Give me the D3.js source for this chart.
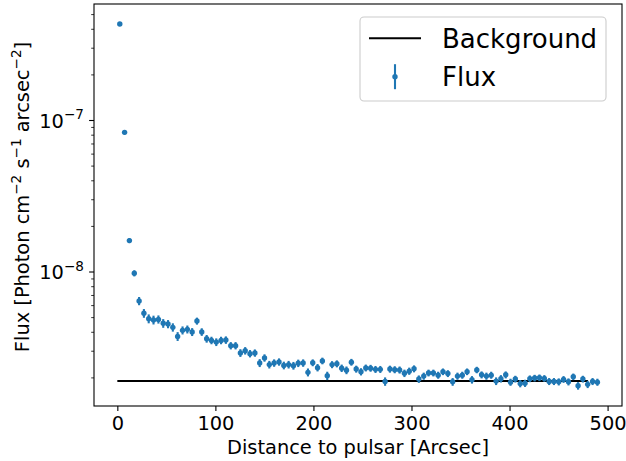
<!DOCTYPE html>
<html>
<head>
<meta charset="utf-8">
<script src="https://cdn.jsdelivr.net/npm/d3@7"></script>
<style>
  html, body { margin: 0; padding: 0; background: #fff; }
  svg { display: block; }
  text { font-family: "DejaVu Sans", sans-serif; fill: #000; }
</style>
</head>
<body>
<svg id="chart" width="626" height="461"></svg>
<script>
// ---------- data ----------
const distance = [
  2.5, 7.4, 12.3, 17.3, 22.2, 27.1, 32.0, 36.9, 41.9, 46.8,
  51.7, 56.6, 61.5, 66.5, 71.4, 76.3, 81.2, 86.1, 91.1, 96.0,
  100.9, 105.8, 110.7, 115.7, 120.6, 125.5, 130.4, 135.3, 140.3, 145.2,
  150.1, 155.0, 159.9, 164.9, 169.8, 174.7, 179.6, 184.5, 189.5, 194.4,
  199.3, 204.2, 209.1, 214.1, 219.0, 223.9, 228.8, 233.7, 238.7, 243.6,
  248.5, 253.4, 258.3, 263.3, 268.2, 273.1, 278.0, 282.9, 287.9, 292.8,
  297.7, 302.6, 307.5, 312.5, 317.4, 322.3, 327.2, 332.1, 337.1, 342.0,
  346.9, 351.8, 356.7, 361.7, 366.6, 371.5, 376.4, 381.3, 386.3, 391.2,
  396.1, 401.0, 405.9, 410.9, 415.8, 420.7, 425.6, 430.5, 435.5, 440.4,
  445.3, 450.2, 455.1, 460.1, 465.0, 469.9, 474.8, 479.7, 484.7, 489.6
];
const flux = [
  4.30e-7, 8.29e-8, 1.60e-8, 9.73e-9, 6.39e-9, 5.30e-9, 4.88e-9, 4.79e-9, 4.83e-9, 4.55e-9,
  4.50e-9, 4.28e-9, 3.73e-9, 4.09e-9, 4.15e-9, 3.99e-9, 4.71e-9, 3.99e-9, 3.60e-9, 3.51e-9,
  3.42e-9, 3.51e-9, 3.53e-9, 3.24e-9, 3.24e-9, 2.90e-9, 3.00e-9, 2.87e-9, 2.90e-9, 2.49e-9,
  2.69e-9, 2.43e-9, 2.49e-9, 2.53e-9, 2.40e-9, 2.43e-9, 2.39e-9, 2.48e-9, 2.49e-9, 2.16e-9,
  2.50e-9, 2.32e-9, 2.57e-9, 2.05e-9, 2.43e-9, 2.46e-9, 2.30e-9, 2.23e-9, 2.52e-9, 2.27e-9,
  2.18e-9, 2.31e-9, 2.30e-9, 2.26e-9, 2.26e-9, 1.88e-9, 2.27e-9, 2.25e-9, 2.24e-9, 2.13e-9,
  2.20e-9, 2.28e-9, 1.95e-9, 2.04e-9, 2.14e-9, 2.14e-9, 2.07e-9, 2.18e-9, 2.12e-9, 1.87e-9,
  2.04e-9, 2.07e-9, 2.18e-9, 1.93e-9, 2.24e-9, 2.08e-9, 2.04e-9, 2.07e-9, 1.89e-9, 1.96e-9,
  2.08e-9, 1.86e-9, 1.95e-9, 1.82e-9, 1.83e-9, 1.96e-9, 1.98e-9, 1.99e-9, 1.97e-9, 1.88e-9,
  1.88e-9, 1.87e-9, 1.94e-9, 1.87e-9, 2.02e-9, 1.76e-9, 1.95e-9, 1.80e-9, 1.88e-9, 1.86e-9
];
const fluxErr = [
  1.2e-8, 2.5e-9, 6.0e-10, 4.5e-10, 4.0e-10, 3.5e-10, 3.3e-10, 3.2e-10, 3.0e-10, 3.0e-10,
  2.8e-10, 2.7e-10, 2.5e-10, 2.5e-10, 2.5e-10, 2.4e-10, 2.5e-10, 2.3e-10, 2.1e-10, 2.0e-10,
  2.0e-10, 2.0e-10, 2.0e-10, 1.8e-10, 1.8e-10, 1.7e-10, 1.7e-10, 1.6e-10, 1.6e-10, 1.5e-10,
  1.5e-10, 1.4e-10, 1.4e-10, 1.4e-10, 1.4e-10, 1.4e-10, 1.4e-10, 1.4e-10, 1.4e-10, 1.3e-10,
  1.3e-10, 1.3e-10, 1.3e-10, 1.3e-10, 1.3e-10, 1.3e-10, 1.3e-10, 1.3e-10, 1.3e-10, 1.2e-10,
  1.2e-10, 1.2e-10, 1.2e-10, 1.2e-10, 1.2e-10, 1.2e-10, 1.2e-10, 1.2e-10, 1.2e-10, 1.2e-10,
  1.2e-10, 1.2e-10, 1.1e-10, 1.1e-10, 1.1e-10, 1.1e-10, 1.1e-10, 1.1e-10, 1.1e-10, 1.1e-10,
  1.1e-10, 1.1e-10, 1.1e-10, 1.1e-10, 1.1e-10, 1.1e-10, 1.1e-10, 1.1e-10, 1.1e-10, 1.1e-10,
  1.1e-10, 1.0e-10, 1.0e-10, 1.0e-10, 1.0e-10, 1.0e-10, 1.0e-10, 1.0e-10, 1.0e-10, 1.0e-10,
  1.0e-10, 1.0e-10, 1.0e-10, 1.0e-10, 1.0e-10, 1.0e-10, 1.0e-10, 1.0e-10, 1.0e-10, 1.0e-10
];
const background = 1.894e-9;
const backgroundRange = [0, 480];
const xTicks = [0, 100, 200, 300, 400, 500];
const yMajorExponents = [-7, -8];
const legendLabels = ["Background", "Flux"];
const xLabel = "Distance to pulsar [Arcsec]";

// ---------- layout ----------
const svg = d3.select("#chart");
const plot = { left: 94, right: 622, top: 4, bottom: 406 };
const blue = "#1f77b4";
const FS = 19.4;      // axis text size
const FS_SUP = 13.6;  // superscript size
const FS_LEG = 26;    // legend text size

const x = d3.scaleLinear().domain([-23.8, 514.7]).range([plot.left, plot.right]);
const y = d3.scaleLog().domain([1.295e-9, 5.83e-7]).range([plot.bottom, plot.top]);

svg.append("rect").attr("width", 626).attr("height", 461).attr("fill", "#fff");

svg.append("clipPath").attr("id", "clip")
  .append("rect").attr("x", plot.left).attr("y", plot.top)
  .attr("width", plot.right - plot.left).attr("height", plot.bottom - plot.top);

const g = svg.append("g").attr("clip-path", "url(#clip)");

// background line
g.append("line")
  .attr("x1", x(backgroundRange[0])).attr("x2", x(backgroundRange[1]))
  .attr("y1", y(background)).attr("y2", y(background))
  .attr("stroke", "#000").attr("stroke-width", 2.1);

// error bars + points
const pts = distance.map((d, i) => ({ x: d, v: flux[i], e: fluxErr[i] }));
g.selectAll("line.err").data(pts).enter().append("line")
  .attr("class", "err")
  .attr("x1", d => x(d.x)).attr("x2", d => x(d.x))
  .attr("y1", d => y(d.v + d.e)).attr("y2", d => y(Math.max(d.v - d.e, 1e-12)))
  .attr("stroke", blue).attr("stroke-width", 2.1);
g.selectAll("circle.pt").data(pts).enter().append("circle")
  .attr("class", "pt")
  .attr("cx", d => x(d.x)).attr("cy", d => y(d.v))
  .attr("r", 2.7).attr("fill", blue);

// ---------- axes ----------
const xAxis = d3.axisBottom(x).tickValues(xTicks).tickSize(4.9).tickPadding(5).tickFormat(d3.format("d"));
const gx = svg.append("g").attr("transform", `translate(0,${plot.bottom})`).call(xAxis);
gx.select(".domain").remove();
gx.selectAll(".tick line").attr("stroke", "#000").attr("stroke-width", 1.1);
gx.selectAll(".tick text").attr("font-size", FS + "px").attr("font-family", "DejaVu Sans").attr("fill", "#000");

const [ymin, ymax] = y.domain();
const minorVals = [];
for (let e = -10; e <= -6; e++) {
  for (let m = 2; m <= 9; m++) {
    const v = m * Math.pow(10, e);
    if (v >= ymin && v <= ymax) minorVals.push(v);
  }
}
const yAxisMinor = d3.axisLeft(y).tickValues(minorVals).tickSize(2.8).tickFormat("");
const gym = svg.append("g").attr("transform", `translate(${plot.left},0)`).call(yAxisMinor);
gym.select(".domain").remove();
gym.selectAll(".tick line").attr("stroke", "#000").attr("stroke-width", 0.8);

const majorVals = yMajorExponents.map(e => Math.pow(10, e));
const yAxisMajor = d3.axisLeft(y).tickValues(majorVals).tickSize(4.9).tickFormat("");
const gyM = svg.append("g").attr("transform", `translate(${plot.left},0)`).call(yAxisMajor);
gyM.select(".domain").remove();
gyM.selectAll(".tick line").attr("stroke", "#000").attr("stroke-width", 1.1);

yMajorExponents.forEach(e => {
  const ty = y(Math.pow(10, e));
  const t = svg.append("text")
    .attr("x", 84).attr("y", ty + 7.5)
    .attr("text-anchor", "end").attr("font-size", FS + "px");
  t.append("tspan").text("10");
  t.append("tspan").attr("font-size", FS_SUP + "px").attr("dy", -8.5).text("\u2212" + Math.abs(e));
});

// frame
svg.append("rect")
  .attr("x", plot.left).attr("y", plot.top)
  .attr("width", plot.right - plot.left).attr("height", plot.bottom - plot.top)
  .attr("fill", "none").attr("stroke", "#000").attr("stroke-width", 1.1);

// x label
svg.append("text")
  .attr("x", (plot.left + plot.right) / 2).attr("y", 454)
  .attr("text-anchor", "middle").attr("font-size", FS + "px")
  .text(xLabel);

// y label
const yl = svg.append("text")
  .attr("transform", `translate(29,197) rotate(-90)`)
  .attr("text-anchor", "middle").attr("font-size", FS + "px");
const parts = [["Flux [Photon cm", false], ["\u22122", true], [" s", false], ["\u22121", true], [" arcsec", false], ["\u22122", true], ["]", false]];
let wasSup = false;
parts.forEach(([s, sup]) => {
  const ts = yl.append("tspan").text(s);
  if (sup) { ts.attr("font-size", FS_SUP + "px").attr("dy", wasSup ? 0 : -8.5); wasSup = true; }
  else if (wasSup) { ts.attr("dy", 8.5); wasSup = false; }
});

// ---------- legend ----------
const lg = svg.append("g");
lg.append("rect")
  .attr("x", 360).attr("y", 17).attr("width", 246).attr("height", 84)
  .attr("rx", 4).attr("fill", "#fff").attr("fill-opacity", 0.8)
  .attr("stroke", "#ccc").attr("stroke-width", 1.1);
const rowY = [38.3, 76.7];
lg.append("line").attr("x1", 369).attr("x2", 421).attr("y1", rowY[0]).attr("y2", rowY[0])
  .attr("stroke", "#000").attr("stroke-width", 2.1);
lg.append("line").attr("x1", 395).attr("x2", 395).attr("y1", rowY[1] - 12.5).attr("y2", rowY[1] + 12.5)
  .attr("stroke", blue).attr("stroke-width", 2.1);
lg.append("circle").attr("cx", 395).attr("cy", rowY[1]).attr("r", 2.7).attr("fill", blue);
legendLabels.forEach((lab, i) => {
  lg.append("text").attr("x", 442).attr("y", rowY[i] + 9.5)
    .attr("font-size", FS_LEG + "px").text(lab);
});
</script>
</body>
</html>
